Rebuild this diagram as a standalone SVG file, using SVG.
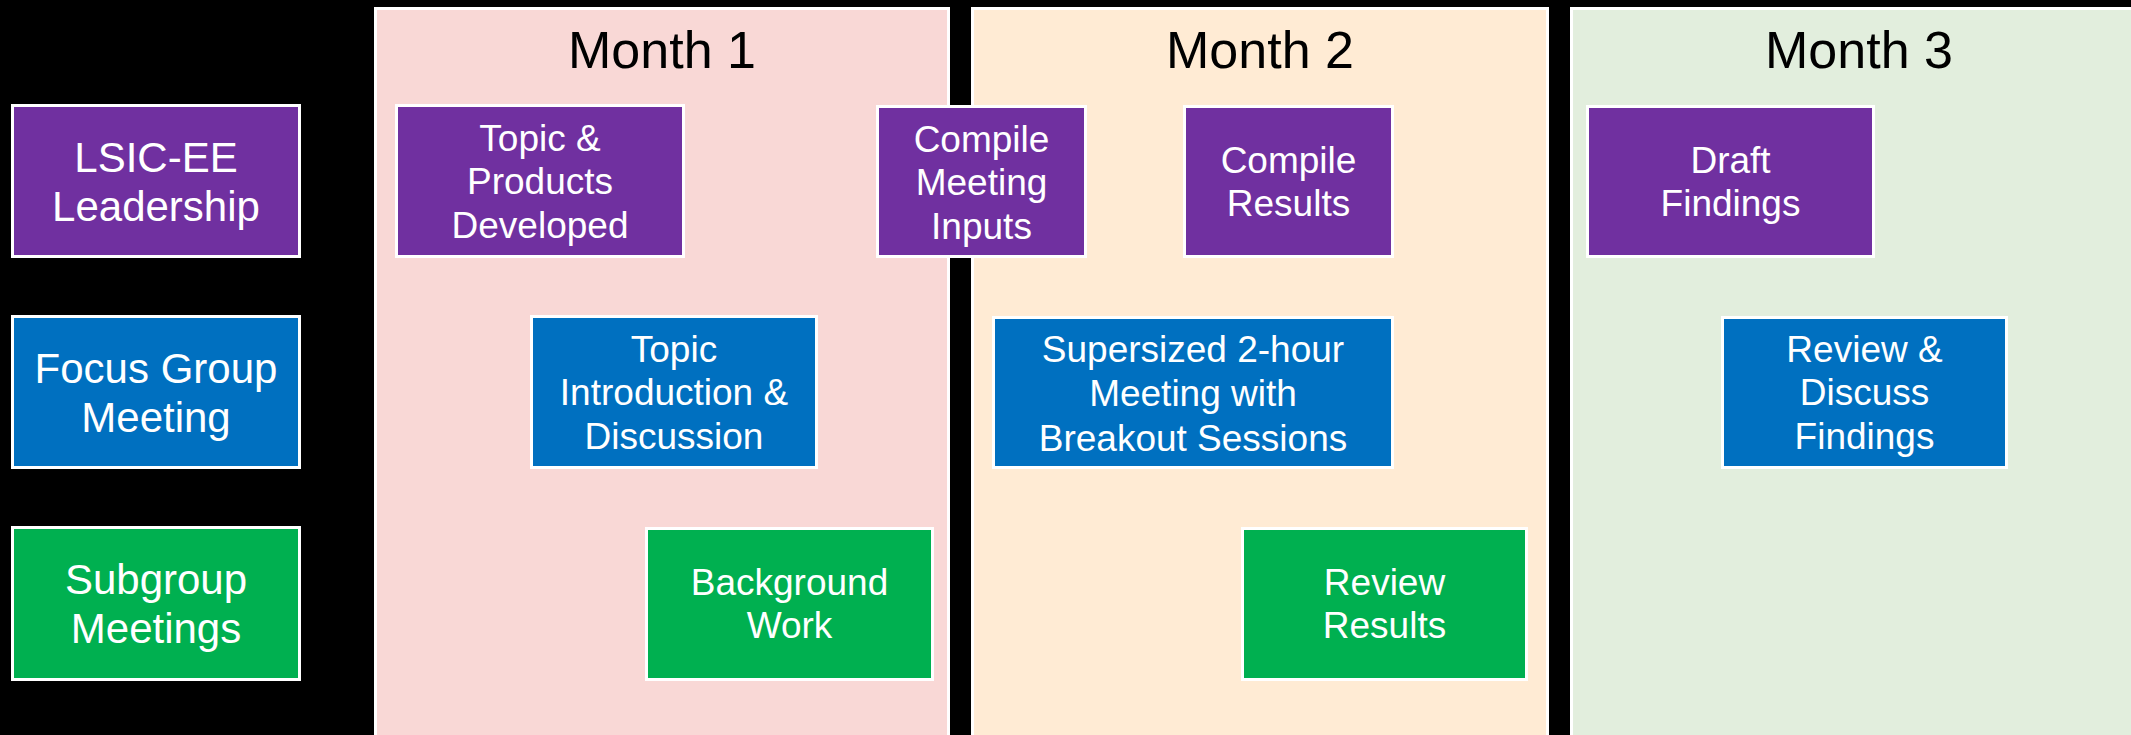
<svg xmlns="http://www.w3.org/2000/svg" width="2131" height="735" viewBox="0 0 2131 735">
<style>
.panel{stroke:#FFFFFF;stroke-width:3}
.box{stroke:#FFFFFF;stroke-width:3}
.lead{fill:#7030A0}
.focus{fill:#0070C0}
.sub{fill:#00B050}
.month{font-family:"Liberation Sans",Arial,sans-serif;font-size:52px;fill:#000000;text-anchor:middle}
.lbl{font-family:"Liberation Sans",Arial,sans-serif;font-size:37px;fill:#FFFFFF;text-anchor:middle}
.side{font-family:"Liberation Sans",Arial,sans-serif;font-size:42px;fill:#FFFFFF;text-anchor:middle}
</style>
<rect x="0" y="0" width="2131" height="735" fill="#000000"/>
<g id="month1">
<rect class="panel" x="375.5" y="8.5" width="573" height="740" fill="#F9D8D6"/>
<text class="month" x="662" y="68">Month 1</text>
</g>
<g id="month2">
<rect class="panel" x="972.5" y="8.5" width="575" height="740" fill="#FFEBD4"/>
<text class="month" x="1260" y="68">Month 2</text>
</g>
<g id="month3">
<rect class="panel" x="1571.5" y="8.5" width="580" height="740" fill="#E2EEDD"/>
<text class="month" x="1859" y="68">Month 3</text>
</g>
<g id="row-leadership">
<rect class="box lead" x="12.5" y="105.5" width="287" height="151"/>
<text class="side" x="156" y="172">LSIC-EE</text>
<text class="side" x="156" y="221">Leadership</text>
</g>
<g id="row-focus">
<rect class="box focus" x="12.5" y="316.5" width="287" height="151"/>
<text class="side" x="156" y="383">Focus Group</text>
<text class="side" x="156" y="432">Meeting</text>
</g>
<g id="row-subgroup">
<rect class="box sub" x="12.5" y="527.5" width="287" height="152"/>
<text class="side" x="156" y="594">Subgroup</text>
<text class="side" x="156" y="643">Meetings</text>
</g>
<g id="topic-products">
<rect class="box lead" x="396.5" y="105.5" width="287" height="151"/>
<text class="lbl" x="540" y="151">Topic &amp;</text>
<text class="lbl" x="540" y="194">Products</text>
<text class="lbl" x="540" y="238">Developed</text>
</g>
<g id="compile-inputs">
<rect class="box lead" x="877.5" y="106.5" width="208" height="150"/>
<text class="lbl" x="981.5" y="152">Compile</text>
<text class="lbl" x="981.5" y="195">Meeting</text>
<text class="lbl" x="981.5" y="239">Inputs</text>
</g>
<g id="compile-results">
<rect class="box lead" x="1184.5" y="106.5" width="208" height="150"/>
<text class="lbl" x="1288.5" y="173">Compile</text>
<text class="lbl" x="1288.5" y="216">Results</text>
</g>
<g id="draft-findings">
<rect class="box lead" x="1587.5" y="106.5" width="286" height="150"/>
<text class="lbl" x="1730.5" y="173">Draft</text>
<text class="lbl" x="1730.5" y="216">Findings</text>
</g>
<g id="topic-intro">
<rect class="box focus" x="531.5" y="316.5" width="285" height="151"/>
<text class="lbl" x="674" y="362">Topic</text>
<text class="lbl" x="674" y="405">Introduction &amp;</text>
<text class="lbl" x="674" y="449">Discussion</text>
</g>
<g id="supersized">
<rect class="box focus" x="993.5" y="317.5" width="399" height="150"/>
<text class="lbl" x="1193" y="362">Supersized 2-hour</text>
<text class="lbl" x="1193" y="406">Meeting with</text>
<text class="lbl" x="1193" y="451">Breakout Sessions</text>
</g>
<g id="review-discuss">
<rect class="box focus" x="1722.5" y="317.5" width="284" height="150"/>
<text class="lbl" x="1864.5" y="362">Review &amp;</text>
<text class="lbl" x="1864.5" y="405">Discuss</text>
<text class="lbl" x="1864.5" y="449">Findings</text>
</g>
<g id="background-work">
<rect class="box sub" x="646.5" y="528.5" width="286" height="151"/>
<text class="lbl" x="789.5" y="595">Background</text>
<text class="lbl" x="789.5" y="638">Work</text>
</g>
<g id="review-results">
<rect class="box sub" x="1242.5" y="528.5" width="284" height="151"/>
<text class="lbl" x="1384.5" y="595">Review</text>
<text class="lbl" x="1384.5" y="638">Results</text>
</g>
<g id="connectors"></g>
</svg>
